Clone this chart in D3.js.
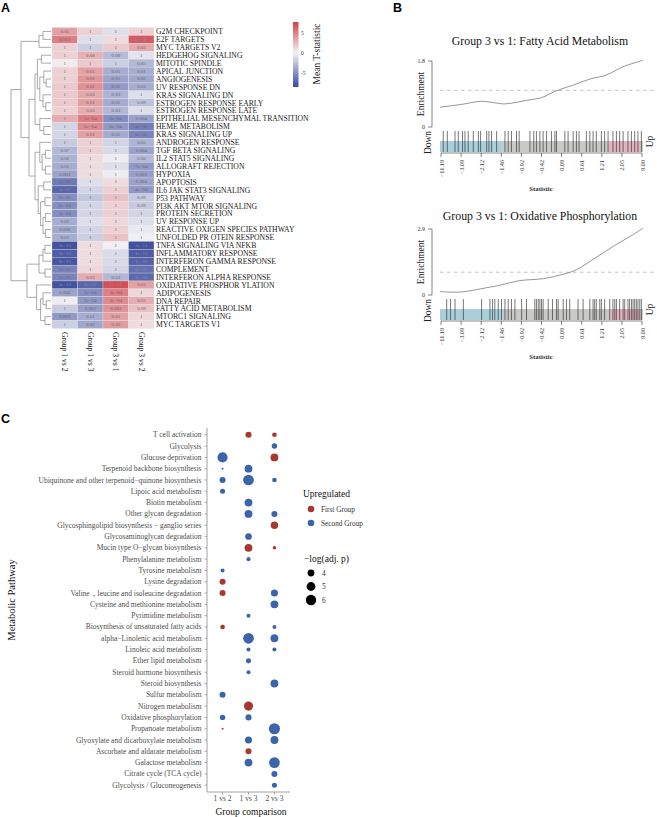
<!DOCTYPE html>
<html><head><meta charset="utf-8">
<script src="https://cdn.jsdelivr.net/npm/d3@7"></script>
<style>body{margin:0;background:#fff}svg{display:block}</style>
</head><body>
<svg id="c" width="657" height="817"></svg>
<script>
// ---------------- DATA ----------------
const hallmark = ["G2M CHECKPOINT","E2F TARGETS","MYC TARGETS V2","HEDGEHOG SIGNALING","MITOTIC SPINDLE","APICAL JUNCTION","ANGIOGENESIS","UV RESPONSE DN","KRAS SIGNALING DN","ESTROGEN RESPONSE EARLY","ESTROGEN RESPONSE LATE","EPITHELIAL MESENCHYMAL TRANSITION","HEME METABOLISM","KRAS SIGNALING UP","ANDROGEN RESPONSE","TGF BETA SIGNALING","IL2 STAT5 SIGNALING","ALLOGRAFT REJECTION","HYPOXIA","APOPTOSIS","IL6 JAK STAT3 SIGNALING","P53  PATHWAY","PI3K AKT MTOR SIGNALING","PROTEIN SECRETION","UV RESPONSE UP","REACTIVE OXIGEN SPECIES PATHWAY","UNFOLDED PR OTEIN RESPONSE","TNFA SIGNALING VIA NFKB","INFLAMMATORY RESPONSE","INTERFERON GAMMA RESPONSE","COMPLEMENT","INTERFERON ALPHA RESPONSE","OXIDATIVE PHOSPHOR YLATION","ADIPOGENESIS","DNA REPAIR","FATTY ACID METABOLISM","MTORC1 SIGNALING","MYC TARGETS V1"];
const comparisons = ["Group 1 vs 2","Group 1 vs 3","Group 3 vs 1","Group 3 vs 2"];
const tstat = [
[3.5,1.5,-1.0,1.5],[5.0,-1.0,1.0,6.5],[1.5,-1.8,1.8,3.2],[1.5,2.8,-2.8,-0.8],[0.3,1.8,-1.8,-3.0],
[1.5,3.5,-3.5,-3.5],[1.5,4.0,-4.0,-3.8],[1.8,4.2,-4.4,-3.5],[1.8,3.2,-3.2,-1.0],[1.8,3.6,-3.6,-2.5],
[1.5,3.0,-3.0,-1.0],[3.0,5.0,-5.0,-4.0],[-1.5,4.5,-4.5,-5.8],[-1.5,3.6,-3.6,-5.5],[-2.0,1.5,-1.5,-3.2],
[-3.0,1.5,-1.2,-4.0],[-3.2,1.0,-0.3,-2.8],[-3.5,1.0,-1.0,-4.5],[-4.0,1.0,-0.3,-4.2],[-6.0,-1.0,1.0,-4.0],
[-7.0,-1.5,1.5,-4.5],[-5.0,-2.2,2.2,-2.0],[-5.0,-1.5,1.5,-2.0],[-5.0,-1.5,1.5,-1.5],[-3.5,-1.0,1.2,-1.0],
[-3.8,-1.5,1.5,-0.5],[-3.5,-1.8,2.2,-0.2],[-8.0,1.0,-0.2,-8.0],[-7.5,1.0,-1.2,-7.5],[-7.8,1.0,-1.2,-7.2],
[-5.5,1.2,-1.5,-6.5],[-5.5,3.0,-3.0,-6.8],[-8.0,-7.0,7.0,3.5],[-4.0,-5.0,5.0,1.2],[-0.3,-4.5,4.5,3.0],
[-2.0,-4.2,4.2,2.2],[-4.5,-3.5,3.5,1.2],[-1.8,-3.8,3.8,1.0]];
const pvals = [
["0.05","1","1","1"],["0.002","1","1","2e−05"],["1","1","1","0.03"],["1","0.08","0.08","1"],["1","1","1","0.05"],
["1","0.01","0.01","0.01"],["1","0.01","0.01","0.02"],["1","0.01","0.01","0.03"],["1","0.03","0.03","1"],["1","0.01","0.01","0.09"],
["1","0.03","0.03","1"],["1","2e−04","2e−04","0.004"],["1","6e−04","6e−04","4e−06"],["1","0.01","0.01","6e−05"],["1","1","1","0.05"],
["0.07","1","1","0.004"],["0.02","1","1","0.06"],["0.01","1","1","7e−04"],["0.001","1","1","0.003"],["5e−06","1","1","0.004"],
["5e−07","1","1","4e−04"],["2e−05","1","1","0.09"],["8e−04","1","1","0.09"],["3e−04","1","1","1"],["0.01","1","1","1"],
["0.006","1","1","1"],["0.01","1","1","1"],["3e−13","1","1","3e−11"],["9e−12","1","1","1e−12"],["9e−13","1","1","1e−09"],
["3e−05","1","1","6e−07"],["3e−05","0.03","0.03","3e−06"],["2e−13","1e−13","1e−13","0.03"],["0.006","3e−04","3e−04","1"],["1","3e−04","3e−04","0.03"],
["1","0.002","0.002","0.09"],["0.003","0.01","0.01","1"],["1","0.02","0.02","1"]];
// hclust-style merges: negative = leaf (1-based row), positive = earlier merge step; third = height
const merges = [
[-1,-2,2.0],[1,-3,3.0],
[-7,-8,1.2],[-6,3,1.8],[-10,-11,1.3],[-9,5,2.0],[4,6,2.8],[-4,-5,2.4],[8,7,3.4],[-13,-14,1.8],[-12,10,2.8],[9,11,4.0],
[-16,-17,1.4],[-18,-19,1.4],[13,14,2.2],[-15,15,2.8],[-20,-21,1.8],[-22,-23,1.5],[-24,-25,1.4],[-26,-27,1.4],[19,20,2.0],[18,21,2.6],[17,22,3.2],[16,23,4.0],
[12,24,5.5],[2,25,7.5],
[-28,-29,1.5],[27,-30,2.0],[-31,-32,1.5],[28,29,3.0],
[-35,-36,1.2],[-34,31,2.0],[-37,-38,1.5],[32,33,2.6],[-33,34,3.6],
[30,35,6.0],[26,36,10]];
const colorbarTicks = [5,0,-5];

const gseaTicks = ["−11.19","−3.09","−2.12","−1.46","−0.92","−0.42","0.09","0.61","1.21","2.05","9.00"];
const fattyTitle = "Group 3 vs 1: Fatty Acid Metabolism";
const fattyMax = 1.8;
const fattyCurve = [[0,0.54],[0.11,0.62],[0.2,0.70],[0.27,0.66],[0.32,0.63],[0.44,0.74],[0.5,0.80],[0.57,0.98],[0.66,1.15],[0.74,1.31],[0.82,1.42],[0.9,1.64],[1.0,1.82]];
const fattyGenes = [0.016,0.036,0.074,0.09,0.111,0.123,0.139,0.164,0.189,0.2,0.23,0.241,0.254,0.279,0.32,0.336,0.352,0.377,0.39,0.443,0.462,0.475,0.492,0.508,0.525,0.549,0.566,0.574,0.615,0.631,0.656,0.672,0.685,0.721,0.738,0.754,0.77,0.795,0.811,0.828,0.852,0.869,0.885,0.902,0.926,0.943,0.959,0.975,0.992];
const fattyBands = [0,0.31,0.83,0.985,1];
const oxTitle = "Group 3 vs 1: Oxidative Phosphorylation";
const oxMax = 2.9;
const oxCurve = [[0,0.15],[0.1,0.13],[0.23,0.32],[0.3,0.44],[0.39,0.63],[0.51,0.72],[0.61,0.92],[0.67,1.1],[0.75,1.54],[0.85,2.12],[0.93,2.54],[1,2.93]];
const oxGenes = [0.033,0.052,0.074,0.115,0.205,0.246,0.259,0.27,0.287,0.303,0.32,0.336,0.352,0.369,0.402,0.426,0.467,0.475,0.484,0.492,0.5,0.508,0.533,0.554,0.574,0.582,0.607,0.623,0.639,0.68,0.705,0.738,0.754,0.762,0.77,0.787,0.795,0.811,0.836,0.852,0.861,0.869,0.885,0.902,0.91,0.926,0.934,0.943,0.951,0.959,0.967,0.975,0.984,0.992];
const oxBands = [0,0.31,0.84,0.985,1];

const metabolic = ["T cell activation","Glycolysis","Glucose deprivation","Terpenoid backbone biosynthesis","Ubiquinone and other terpenoid−quinone biosynthesis","Lipoic acid metabolism","Biotin metabolism","Other glycan degradation","Glycosphingolipid biosynthesis − ganglio series","Glycosaminoglycan degradation","Mucin type O−glycan biosynthesis","Phenylalanine metabolism","Tyrosine metabolism","Lysine degradation","Valine，leucine and isoleucine degradation","Cysteine and methionine metabolism","Pyrimidine metabolism","Biosynthesis of unsaturated  fatty acids","alpha−Linolenic acid metabolism","Linoleic acid metabolism","Ether lipid metabolism","Steroid hormone biosynthesis","Steroid biosynthesis","Sulfur metabolism","Nitrogen metabolism","Oxidative phosphorylation","Propanoate metabolism","Glyoxylate and dicarboxylate metabolism","Ascorbate and aldarate metabolism","Galactose metabolism","Citrate cycle (TCA cycle)","Glycolysis / Gluconeogenesis"];
const groupComparisons = ["1 vs 2","1 vs 3","2 vs 3"];
// -log(adj. p) per pathway, null = not significant
const logp_1v2 = [null,null,5.84,2.6,3.68,3.31,null,null,null,null,null,null,3.0,3.68,3.68,null,null,3.18,null,null,null,null,null,3.68,null,3.45,2.6,null,null,null,null,null];
const logp_1v3 = [3.7,null,null,4.49,6.26,null,4.49,4.49,null,3.94,4.49,3.0,null,null,null,null,3.0,null,6.26,3.0,3.31,3.0,null,null,5.2,3.68,null,4.12,3.68,4.49,null,null];
const logp_2v3 = [3.18,3.45,4.49,null,3.18,null,null,3.68,4.31,null,2.86,null,null,null,4.12,4.49,null,3.0,4.49,3.0,null,null,4.49,null,null,null,6.55,4.49,null,6.26,3.68,3.31];
// upregulated group: F = First Group, S = Second Group
const up_1v2 = [null,null,"S","S","S","S",null,null,null,null,null,null,"S","F","F",null,null,"F",null,null,null,null,null,"S",null,"S","F",null,null,null,null,null];
const up_1v3 = ["F",null,null,"S","S",null,"S","S",null,"S","F","S",null,null,null,null,"S",null,"S","S","S","S",null,null,"F","S",null,"S","F","S",null,null];
const up_2v3 = ["F","S","F",null,"S",null,null,"S","F",null,"F",null,null,null,"S","S",null,"S","S","S",null,null,"S",null,null,null,"S","S",null,"S","S","S"];
const upGroups = ["First Group","Second Group"];
const sizeBreaks = [4,5,6];

// ---------------- DRAW ----------------
const svg = d3.select("#c");
const serif = "'Liberation Serif','Times New Roman',serif";
const sans = "'Liberation Sans',Arial,sans-serif";

// panel letters
svg.append("text").attr("x",1).attr("y",12).text("A").attr("font-family",sans).attr("font-weight","bold").attr("font-size",12.5);
svg.append("text").attr("x",393).attr("y",12).text("B").attr("font-family",sans).attr("font-weight","bold").attr("font-size",12.5);
svg.append("text").attr("x",1).attr("y",423).text("C").attr("font-family",sans).attr("font-weight","bold").attr("font-size",12.5);

// ---- Panel A heatmap ----
const hx = d3.scaleBand().domain(comparisons).range([52,154]);
const hy = d3.scaleBand().domain(hallmark).range([27.5,328.5]);
const hcol = d3.scaleLinear().domain([-8.4,0,8.4]).range(["#3a4a9b","#f4f3f6","#cb2f37"]);
const gA = svg.append("g");
hallmark.forEach((p,i)=>{
  comparisons.forEach((c,j)=>{
    gA.append("rect").attr("x",hx(c)).attr("y",hy(p)).attr("width",hx.bandwidth()).attr("height",hy.bandwidth())
      .attr("fill",hcol(tstat[i][j])).attr("stroke","#e6e6e6").attr("stroke-width",0.3);
    gA.append("text").attr("x",hx(c)+hx.bandwidth()/2).attr("y",hy(p)+hy.bandwidth()/2)
      .attr("text-anchor","middle").attr("dominant-baseline","central")
      .attr("font-family",serif).attr("font-size",5).attr("fill",Math.abs(tstat[i][j])>6?"#8a8aa8":"#6a6a6a").text(pvals[i][j]);
  });
  gA.append("text").attr("x",156).attr("y",hy(p)+hy.bandwidth()/2+0.3).attr("dominant-baseline","central")
    .attr("font-family",serif).attr("font-size",7.7).attr("fill","#1a1a1a").text(p);
});
comparisons.forEach(c=>{
  const x = hx(c)+hx.bandwidth()/2;
  gA.append("text").attr("transform",`translate(${x},332) rotate(90)`).attr("dominant-baseline","central")
    .attr("font-family",serif).attr("font-size",7.6).attr("fill","#1a1a1a").text(c);
});
// dendrogram
const dx = d3.scaleLinear().domain([0,10]).range([51,11]);
const leafY = i => hy(hallmark[i]) + hy.bandwidth()/2;
const nodes = [];
const dpath = d3.path();
merges.forEach(([a,b,h])=>{
  const ch = [a,b].map(c => c<0 ? {x:dx(0), y:leafY(-c-1)} : nodes[c-1]);
  const n = {x:dx(h), y:(ch[0].y+ch[1].y)/2};
  ch.forEach(c=>{ dpath.moveTo(c.x,c.y); dpath.lineTo(n.x,c.y); });
  dpath.moveTo(n.x,ch[0].y); dpath.lineTo(n.x,ch[1].y);
  nodes.push(n);
});
gA.append("path").attr("d",dpath.toString()).attr("fill","none").attr("stroke","#707070").attr("stroke-width",0.6);
// colorbar
const cbY = d3.scaleLinear().domain([-8.4,7.6]).range([87,22]);
const defs = svg.append("defs");
const grad = defs.append("linearGradient").attr("id","cbg").attr("x1",0).attr("y1",1).attr("x2",0).attr("y2",0);
d3.range(0,1.0001,0.05).forEach(t=>{
  const v = -8.4 + t*16;
  grad.append("stop").attr("offset",t).attr("stop-color",hcol(v));
});
gA.append("rect").attr("x",293).attr("y",22).attr("width",5.5).attr("height",65).attr("fill","url(#cbg)");
colorbarTicks.forEach(t=>{
  gA.append("text").attr("x",301).attr("y",cbY(t)).attr("dominant-baseline","central")
    .attr("font-family",serif).attr("font-size",5.5).attr("fill","#333").text(t);
});
gA.append("text").attr("transform","translate(317,54) rotate(-90)").attr("text-anchor","middle").attr("dominant-baseline","central")
  .attr("font-family",serif).attr("font-size",9.5).attr("fill","#222").text("Mean T-statistic");

// ---- Panel B GSEA ----
function gsea(o){
  const g = svg.append("g");
  const x = d3.scaleLinear().domain([0,1]).range([440,643]);
  const y = d3.scaleLinear().domain([0,o.max]).range([o.y0, o.y0-66]);
  g.append("text").attr("x",540).attr("y",o.titleY).attr("text-anchor","middle").attr("dominant-baseline","central")
    .attr("font-family",serif).attr("font-size",11.8).attr("fill","#111").text(o.title);
  // y axis
  g.append("line").attr("x1",432).attr("x2",432).attr("y1",y(0)).attr("y2",y(o.max)).attr("stroke","#333").attr("stroke-width",0.6);
  [0,o.max].forEach(v=>{
    g.append("line").attr("x1",428).attr("x2",432).attr("y1",y(v)).attr("y2",y(v)).attr("stroke","#333").attr("stroke-width",0.6);
    g.append("text").attr("x",425).attr("y",y(v)).attr("text-anchor","end").attr("dominant-baseline","central")
      .attr("font-family",serif).attr("font-size",6).attr("fill","#333").text(v===0?"0":v.toFixed(1));
  });
  g.append("text").attr("transform",`translate(421,${y(o.max/2)}) rotate(-90)`).attr("text-anchor","middle").attr("dominant-baseline","central")
    .attr("font-family",serif).attr("font-size",9.5).attr("fill","#222").text("Enrichment");
  g.append("line").attr("x1",440).attr("x2",655).attr("y1",y(1)).attr("y2",y(1)).attr("stroke","#aaa").attr("stroke-width",0.7).attr("stroke-dasharray","3.5,3.5");
  g.append("path").attr("d",d3.line().x(d=>x(d[0])).y(d=>y(d[1])).curve(d3.curveCatmullRom)(o.curve))
    .attr("fill","none").attr("stroke","#7a7a7a").attr("stroke-width",0.8);
  // barcode
  const bt = o.y0+4, bm = o.y0+14, bb = o.y0+25;
  const bandCols = ["#a9cfdb","#c9c9c7","#e3b3bf","#c9c9c7"];
  for(let k=0;k<4;k++){
    g.append("rect").attr("x",x(o.bands[k])).attr("y",bm).attr("width",x(o.bands[k+1])-x(o.bands[k])).attr("height",bb-bm).attr("fill",bandCols[k]);
  }
  o.genes.forEach(p=>{
    g.append("line").attr("x1",x(p)).attr("x2",x(p)).attr("y1",bt).attr("y2",bb).attr("stroke","#2a2a2a").attr("stroke-width",0.8).attr("stroke-opacity",0.8);
  });
  g.append("text").attr("transform",`translate(428,${(bt+bb)/2+1}) rotate(-90)`).attr("text-anchor","middle").attr("dominant-baseline","central")
    .attr("font-family",serif).attr("font-size",9.5).attr("fill","#222").text("Down");
  g.append("text").attr("transform",`translate(650,${(bt+bb)/2}) rotate(-90)`).attr("text-anchor","middle").attr("dominant-baseline","central")
    .attr("font-family",serif).attr("font-size",9.5).attr("fill","#222").text("Up");
  // x axis
  const xt = d3.scalePoint().domain(gseaTicks).range([441,642]);
  const ay = bb+1;
  g.append("line").attr("x1",441).attr("x2",642).attr("y1",ay).attr("y2",ay).attr("stroke","#333").attr("stroke-width",0.6);
  gseaTicks.forEach(t=>{
    g.append("line").attr("x1",xt(t)).attr("x2",xt(t)).attr("y1",ay).attr("y2",ay+4).attr("stroke","#333").attr("stroke-width",0.6);
    g.append("text").attr("transform",`translate(${xt(t)},${ay+7}) rotate(-90)`).attr("text-anchor","end").attr("dominant-baseline","central")
      .attr("font-family",serif).attr("font-size",6.2).attr("fill","#333").text(t);
  });
  g.append("text").attr("x",541).attr("y",ay+35).attr("text-anchor","middle").attr("dominant-baseline","central")
    .attr("font-family",serif).attr("font-weight","bold").attr("font-size",6.8).attr("fill","#333").text("Statistic");
}
gsea({title:fattyTitle,max:fattyMax,curve:fattyCurve,genes:fattyGenes,bands:fattyBands,y0:127,titleY:41});
gsea({title:oxTitle,max:oxMax,curve:oxCurve,genes:oxGenes,bands:oxBands,y0:295,titleY:216});

// ---- Panel C dot plot ----
const gC = svg.append("g");
const cx = d3.scalePoint().domain(groupComparisons).range([207,290]).padding(0.6);
const cy = d3.scalePoint().domain(metabolic).range([428,792]).padding(0.6);
const area = d3.scaleLinear().domain([2.6,6.6]).range([1,31.4]);
const rad = v => Math.sqrt(area(v));
const upCol = {F:"#a8382f", S:"#3c64aa"};
gC.append("line").attr("x1",207).attr("x2",207).attr("y1",428).attr("y2",792).attr("stroke","#8a8a8a").attr("stroke-width",0.8);
gC.append("line").attr("x1",207).attr("x2",290).attr("y1",792).attr("y2",792).attr("stroke","#8a8a8a").attr("stroke-width",0.8);
metabolic.forEach(m=>{
  gC.append("line").attr("x1",204.5).attr("x2",207).attr("y1",cy(m)).attr("y2",cy(m)).attr("stroke","#8a8a8a").attr("stroke-width",0.7);
  gC.append("text").attr("x",201.5).attr("y",cy(m)).attr("text-anchor","end").attr("dominant-baseline","central")
    .attr("font-family",serif).attr("font-size",7.5).attr("fill","#4d4d4d").text(m);
});
groupComparisons.forEach(c=>{
  gC.append("line").attr("x1",cx(c)).attr("x2",cx(c)).attr("y1",792).attr("y2",794.5).attr("stroke","#8a8a8a").attr("stroke-width",0.7);
  gC.append("text").attr("x",cx(c)).attr("y",798.5).attr("text-anchor","middle").attr("dominant-baseline","central")
    .attr("font-family",serif).attr("font-size",7.5).attr("fill","#4d4d4d").text(c);
});
gC.append("text").attr("x",251).attr("y",811.5).attr("text-anchor","middle").attr("dominant-baseline","central")
  .attr("font-family",serif).attr("font-size",9.5).attr("fill","#111").text("Group comparison");
gC.append("text").attr("transform","translate(11,600) rotate(-90)").attr("text-anchor","middle").attr("dominant-baseline","central")
  .attr("font-family",serif).attr("font-size",10.5).attr("fill","#111").text("Metabolic Pathway");
const series = [[logp_1v2,up_1v2],[logp_1v3,up_1v3],[logp_2v3,up_2v3]];
series.forEach(([vals,ups],j)=>{
  vals.forEach((v,i)=>{
    if(v==null) return;
    gC.append("circle").attr("cx",cx(groupComparisons[j])).attr("cy",cy(metabolic[i])).attr("r",rad(v)).attr("fill",upCol[ups[i]]);
  });
});
// legend
gC.append("text").attr("x",303).attr("y",494).attr("dominant-baseline","central").attr("font-family",serif).attr("font-size",9.5).attr("fill","#111").text("Upregulated");
upGroups.forEach((u,k)=>{
  const yy = 509 + k*14;
  gC.append("circle").attr("cx",311).attr("cy",yy).attr("r",3.3).attr("fill",upCol[k===0?"F":"S"]);
  gC.append("text").attr("x",321).attr("y",yy).attr("dominant-baseline","central").attr("font-family",serif).attr("font-size",7.3).attr("fill","#333").text(u);
});
gC.append("text").attr("x",304).attr("y",559).attr("dominant-baseline","central").attr("font-family",serif).attr("font-size",9.5).attr("fill","#111").text("−log(adj. p)");
sizeBreaks.forEach((s,k)=>{
  const yy = 573 + k*13.5;
  gC.append("circle").attr("cx",311).attr("cy",yy).attr("r",rad(s)).attr("fill","#000");
  gC.append("text").attr("x",322).attr("y",yy).attr("dominant-baseline","central").attr("font-family",serif).attr("font-size",7.3).attr("fill","#333").text(s);
});
</script>
</body></html>
